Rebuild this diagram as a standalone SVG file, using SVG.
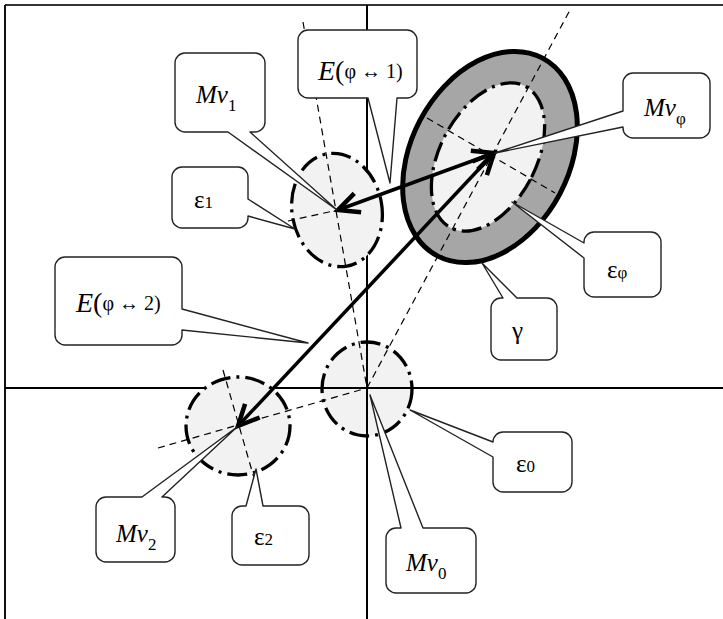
<svg xmlns="http://www.w3.org/2000/svg" width="723" height="619" viewBox="0 0 723 619">
<style>
.frame{stroke:#333;stroke-width:2;fill:none}
.axis{stroke:#000;stroke-width:2;fill:none}
.fl{fill:#f2f2f2;stroke:none}
.dd{fill:none;stroke:#000;stroke-width:3.3;stroke-dasharray:20 6 3 6}
.dash{fill:none;stroke:#000;stroke-width:1.2;stroke-dasharray:7 5}
.arrow{stroke:#000;stroke-width:3.5;fill:none;marker-start:url(#ah);marker-end:url(#ah)}
.call{fill:#fff;stroke:#222;stroke-width:1.4;stroke-linejoin:round}
text{font-family:"Liberation Serif","DejaVu Serif",serif;fill:#000}
.it{font-style:italic}
</style>
<defs>
<marker id="ah" markerUnits="userSpaceOnUse" markerWidth="40" markerHeight="40" viewBox="-30 -20 40 40" refX="0" refY="0" orient="auto-start-reverse" overflow="visible">
<path d="M-21,-10 L0,0 L-21,10" fill="none" stroke="#000" stroke-width="4.5"/>
</marker>
</defs>
<rect width="723" height="619" fill="#fff"/>
<g id="frame">
<line class="frame" x1="5" y1="5" x2="723" y2="5" stroke="#555"/>
<line class="frame" x1="5" y1="5" x2="5" y2="619" style="stroke:#111"/>
</g>
<ellipse class="fl" cx="367" cy="389" rx="45" ry="47"/>
<g id="axes">
<line class="axis" x1="367" y1="5" x2="367" y2="619"/>
<line class="axis" x1="5" y1="388" x2="723" y2="388"/>
</g>
<g id="node-v0"><ellipse class="dd" cx="367" cy="389" rx="45" ry="47"/></g>
<g id="node-v1">
<ellipse class="fl" cx="337" cy="210" rx="45" ry="57" transform="rotate(-10 337 210)"/>
<ellipse class="dd" cx="337" cy="210" rx="45" ry="57" transform="rotate(-10 337 210)"/>
</g>
<g id="node-v2">
<ellipse class="fl" cx="238" cy="426" rx="52" ry="49"/>
<ellipse class="dd" cx="238" cy="426" rx="52" ry="49"/>
</g>
<g id="node-phi">
<ellipse cx="490" cy="157" rx="79" ry="112" transform="rotate(28 490 157)" fill="#a6a6a6" stroke="#000" stroke-width="5"/>
<ellipse class="fl" cx="488" cy="157" rx="48" ry="80" transform="rotate(28 488 157)"/>
<ellipse class="dd" cx="488" cy="157" rx="48" ry="80" transform="rotate(28 488 157)"/>
</g>
<g id="guides">
<line class="dash" x1="303" y1="22" x2="367" y2="388"/>
<line class="dash" x1="288" y1="221" x2="338" y2="210"/>
<line class="dash" x1="223" y1="370" x2="254" y2="478"/>
<line class="dash" x1="158" y1="448" x2="367" y2="388"/>
<line class="dash" x1="367" y1="388" x2="570" y2="10"/>
<line class="dash" x1="427" y1="118" x2="555" y2="193"/>
</g>
<g id="connectors">
<line class="arrow" x1="494" y1="153" x2="338" y2="210"/>
<line class="arrow" x1="494" y1="153" x2="238" y2="426"/>
</g>
<g id="callout-mv1">
<path class="call" d="M185,53 H255 A10,10 0 0 1 265,63 V122 A10,10 0 0 1 255,132 H250 L337,210 L228,132 H185 A10,10 0 0 1 175,122 V63 A10,10 0 0 1 185,53 Z"/>
<text x="196" y="103" font-size="25"><tspan class="it">Mv</tspan><tspan font-size="17" dy="8">1</tspan></text>
</g>
<g id="callout-eps1">
<path class="call" d="M182,167 H238 A10,10 0 0 1 248,177 V199 L295,229 L248,216 V218 A10,10 0 0 1 238,228 H182 A10,10 0 0 1 172,218 V177 A10,10 0 0 1 182,167 Z"/>
<text x="194" y="208" font-size="25">ε<tspan font-size="17">1</tspan></text>
</g>
<g id="callout-e1">
<path class="call" d="M308,30 H407 A10,10 0 0 1 417,40 V88 A10,10 0 0 1 407,98 H397 L390,183 L368,98 H308 A10,10 0 0 1 298,88 V40 A10,10 0 0 1 308,30 Z"/>
<text x="318" y="80" font-size="28"><tspan class="it">E</tspan>(<tspan font-size="20" dy="-2">φ ↔ 1)</tspan></text>
</g>
<g id="callout-mvphi">
<path class="call" d="M633,73 H700 A10,10 0 0 1 710,83 V128 A10,10 0 0 1 700,138 H633 A10,10 0 0 1 623,128 V127 L495,153 L623,111 V83 A10,10 0 0 1 633,73 Z"/>
<text x="644" y="116" font-size="25"><tspan class="it">Mv</tspan><tspan font-size="17" dy="8">φ</tspan></text>
</g>
<g id="callout-epsphi">
<path class="call" d="M594,232 H651 A10,10 0 0 1 661,242 V287 A10,10 0 0 1 651,297 H594 A10,10 0 0 1 584,287 V258 L512,202 L584,243 V242 A10,10 0 0 1 594,232 Z"/>
<text x="607" y="278" font-size="25">ε<tspan font-size="17">φ</tspan></text>
</g>
<g id="callout-gamma">
<path class="call" d="M501,298 H503 L482,263 L517,298 H547 A10,10 0 0 1 557,308 V350 A10,10 0 0 1 547,360 H501 A10,10 0 0 1 491,350 V308 A10,10 0 0 1 501,298 Z"/>
<text x="512" y="339" font-size="25">γ</text>
</g>
<g id="callout-e2">
<path class="call" d="M65,257 H172 A10,10 0 0 1 182,267 V309 L308,343 L182,330 V335 A10,10 0 0 1 172,345 H65 A10,10 0 0 1 55,335 V267 A10,10 0 0 1 65,257 Z"/>
<text x="76" y="312" font-size="28"><tspan class="it">E</tspan>(<tspan font-size="20" dy="-2">φ ↔ 2)</tspan></text>
</g>
<g id="callout-mv2">
<path class="call" d="M106,497 H142 L237,427 L162,497 H165 A10,10 0 0 1 175,507 V552 A10,10 0 0 1 165,562 H106 A10,10 0 0 1 96,552 V507 A10,10 0 0 1 106,497 Z"/>
<text x="116" y="542" font-size="25"><tspan class="it">Mv</tspan><tspan font-size="17" dy="8">2</tspan></text>
</g>
<g id="callout-eps2">
<path class="call" d="M242,506 H246 L256,469 L263,506 H299 A10,10 0 0 1 309,516 V555 A10,10 0 0 1 299,565 H242 A10,10 0 0 1 232,555 V516 A10,10 0 0 1 242,506 Z"/>
<text x="254" y="545" font-size="25">ε<tspan font-size="17">2</tspan></text>
</g>
<g id="callout-mv0">
<path class="call" d="M396,528 H401 L370,395 L423,528 H466 A10,10 0 0 1 476,538 V583 A10,10 0 0 1 466,593 H396 A10,10 0 0 1 386,583 V538 A10,10 0 0 1 396,528 Z"/>
<text x="406" y="571" font-size="25"><tspan class="it">Mv</tspan><tspan font-size="17" dy="8">0</tspan></text>
</g>
<g id="callout-eps0">
<path class="call" d="M503,432 H562 A10,10 0 0 1 572,442 V482 A10,10 0 0 1 562,492 H503 A10,10 0 0 1 493,482 V457 L410,410 L493,442 A10,10 0 0 1 503,432 Z"/>
<text x="516" y="472" font-size="25">ε<tspan font-size="17">0</tspan></text>
</g>
</svg>
